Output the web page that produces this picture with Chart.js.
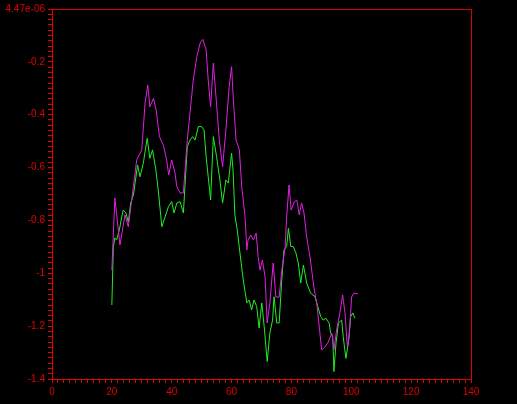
<!DOCTYPE html>
<html>
<head>
<meta charset="utf-8">
<script src="https://cdn.jsdelivr.net/npm/chart.js@4/dist/chart.umd.min.js"></script>
<style>
  html, body { margin: 0; padding: 0; background: #000; }
  canvas { display: block; background: #000; }
</style>
</head>
<body>
<canvas id="c" width="517" height="404"></canvas>
<script>
// ---- data ----
const magentaX = [20.0,21.0,22.7,24.4,25.5,27.2,28.3,30.0,31.1,32.0,32.7,33.9,34.8,35.9,37.2,38.3,39.0,40.0,41.1,41.7,42.8,43.9,45.2,46.1,47.2,48.4,49.5,50.4,51.5,52.2,53.0,53.9,54.8,55.9,57.0,58.1,59.2,60.0,60.6,61.5,62.6,63.4,64.5,65.1,65.5,66.4,67.3,68.2,68.9,69.5,70.3,71.2,71.9,72.8,73.9,74.8,75.9,76.8,77.9,78.4,79.2,79.9,80.9,81.8,82.6,83.4,84.2,85.1,86.2,87.5,88.6,90.1,91.2,92.3,93.5,94.2,95.1,96.2,97.1,97.9,98.7,99.3,100.1,100.9,102.2];
const magentaY = [-0.988,-0.715,-0.893,-0.779,-0.824,-0.672,-0.571,-0.533,-0.356,-0.288,-0.370,-0.338,-0.382,-0.483,-0.515,-0.571,-0.628,-0.571,-0.620,-0.672,-0.696,-0.696,-0.496,-0.393,-0.269,-0.180,-0.129,-0.115,-0.155,-0.269,-0.370,-0.205,-0.332,-0.496,-0.597,-0.458,-0.294,-0.218,-0.344,-0.496,-0.533,-0.672,-0.786,-0.912,-0.874,-0.855,-0.874,-0.848,-0.937,-0.988,-0.950,-1.014,-1.188,-1.112,-0.961,-1.090,-1.090,-0.988,-0.900,-0.787,-0.666,-0.761,-0.730,-0.723,-0.779,-0.734,-0.772,-0.863,-0.938,-1.052,-1.127,-1.290,-1.279,-1.260,-1.226,-1.290,-1.214,-1.150,-1.082,-1.150,-1.279,-1.241,-1.090,-1.075,-1.078];

const greenX = [20.0,20.5,21.0,21.6,22.5,23.3,23.8,24.7,25.5,26.3,27.2,27.9,28.6,29.4,30.5,31.8,32.7,33.6,34.7,35.5,36.7,37.8,38.9,40.0,40.8,41.7,42.8,43.9,45.2,46.1,47.0,47.8,48.9,50.0,50.8,51.5,52.2,53.0,53.9,55.0,56.1,57.0,58.1,58.9,60.0,60.5,61.1,61.9,62.8,63.9,65.1,65.9,66.7,67.5,68.4,69.2,70.1,70.9,71.9,72.8,73.7,74.2,75.1,75.9,76.7,77.5,78.4,79.0,79.8,80.6,81.5,82.3,83.1,84.0,85.1,86.4,87.9,88.8,89.8,90.6,91.5,92.6,93.1,93.8,94.2,94.9,95.7,96.8,97.3,98.2,99.0,99.8,100.5,101.2];
const greenY = [-1.120,-0.900,-0.866,-0.874,-0.836,-0.787,-0.761,-0.772,-0.806,-0.734,-0.704,-0.647,-0.590,-0.635,-0.584,-0.489,-0.565,-0.533,-0.609,-0.685,-0.824,-0.786,-0.748,-0.729,-0.772,-0.734,-0.729,-0.772,-0.521,-0.496,-0.483,-0.496,-0.445,-0.445,-0.458,-0.559,-0.635,-0.723,-0.483,-0.559,-0.647,-0.734,-0.647,-0.659,-0.546,-0.609,-0.779,-0.836,-0.923,-1.025,-1.112,-1.101,-1.139,-1.101,-1.126,-1.207,-1.112,-1.202,-1.334,-1.226,-1.177,-1.089,-1.188,-1.188,-1.037,-0.912,-0.899,-0.830,-0.899,-0.899,-0.923,-0.961,-1.037,-0.969,-1.037,-1.075,-1.089,-1.126,-1.164,-1.177,-1.170,-1.188,-1.226,-1.240,-1.372,-1.264,-1.188,-1.177,-1.240,-1.322,-1.264,-1.164,-1.150,-1.170];

const xTickLabels = ['0','20','40','60','80','100','120','140'];
const yTickLabels = ['4.47e-06','-0.2','-0.4','-0.6','-0.8','-1','-1.2','-1.4'];

const RED = '#e00000';
const toPoints = (xs, ys) => xs.map((x, i) => ({x: x, y: ys[i]}));

const framePlugin = {
  id: 'frame',
  afterDraw(chart) {
    const {ctx, chartArea: a} = chart;
    ctx.save();
    ctx.strokeStyle = RED;
    ctx.lineWidth = 1;
    ctx.beginPath();
    ctx.moveTo(a.left + 0.5, a.top + 0.5);
    ctx.lineTo(a.right + 0.5, a.top + 0.5);
    ctx.lineTo(a.right + 0.5, a.bottom + 0.5);
    ctx.stroke();
    ctx.restore();
  }
};

new Chart(document.getElementById('c'), {
  type: 'line',
  data: {
    datasets: [
      { data: toPoints(magentaX, magentaY), borderColor: '#e020e0', borderWidth: 1, pointRadius: 0, tension: 0, fill: false },
      { data: toPoints(greenX, greenY), borderColor: '#20ee20', borderWidth: 1, pointRadius: 0, tension: 0, fill: false }
    ]
  },
  options: {
    responsive: false,
    animation: false,
    events: [],
    layout: { padding: { top: 9, right: 46, left: 0, bottom: 0 } },
    plugins: { legend: { display: false }, tooltip: { enabled: false } },
    scales: {
      x: {
        type: 'linear', min: 0, max: 140,
        afterFit(s) { s.height = 25; },
        border: { display: true, color: RED, width: 1 },
        grid: { display: true, drawOnChartArea: false, drawTicks: true, tickLength: 4, color: RED, tickColor: RED },
        ticks: {
          stepSize: 2, autoSkip: false, maxRotation: 0, padding: 3,
          color: RED, font: { family: 'Liberation Sans', size: 10 },
          callback(v) {
            const r = Math.round(v);
            return r % 20 === 0 ? xTickLabels[r / 20] : '';
          }
        }
      },
      y: {
        type: 'linear', min: -1.4, max: 0,
        afterFit(s) { s.width = 52; },
        border: { display: true, color: RED, width: 1 },
        grid: { display: true, drawOnChartArea: false, drawTicks: true, tickLength: 4, color: RED, tickColor: RED },
        ticks: {
          stepSize: 0.02, autoSkip: false, padding: 3,
          color: RED, font: { family: 'Liberation Sans', size: 10 },
          callback(v) {
            const r = Math.round(-v * 100);
            return r % 20 === 0 ? yTickLabels[r / 20] : '';
          }
        }
      }
    }
  },
  plugins: [framePlugin]
});
</script>
</body>
</html>
